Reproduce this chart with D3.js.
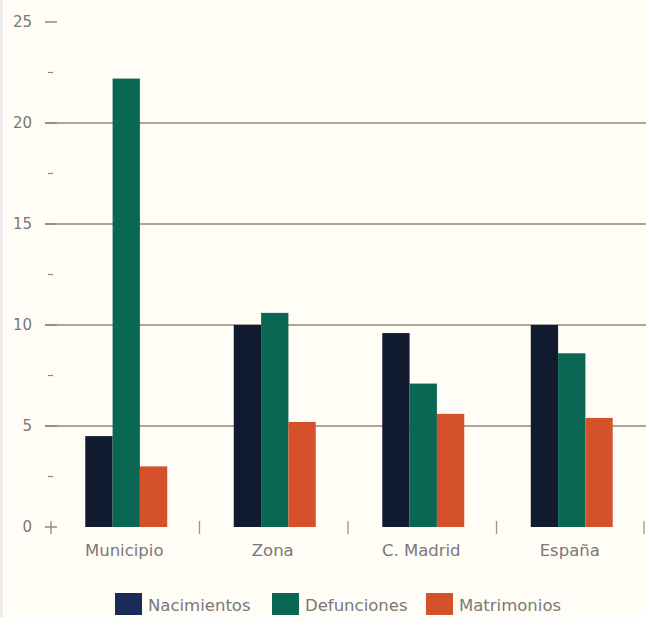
<!DOCTYPE html>
<html>
<head>
<meta charset="utf-8">
<script src="https://cdn.jsdelivr.net/npm/d3@7"></script>
<style>
  html, body { margin: 0; padding: 0; background: #fffdf6; }
  svg { display: block; }
</style>
</head>
<body>
<script>
const categories = ["Municipio", "Zona", "C. Madrid", "España"];
const seriesNames = ["Nacimientos", "Defunciones", "Matrimonios"];
const nacimientos = [4.5, 10.0, 9.6, 10.0];
const defunciones = [22.2, 10.6, 7.1, 8.6];
const matrimonios = [3.0, 5.2, 5.6, 5.4];
const yTicks = [0, 5, 10, 15, 20, 25];
const yMinorTicks = [2.5, 7.5, 12.5, 17.5, 22.5];
const colors = ["#111b30", "#0a6753", "#d5512a"];
const legendColors = ["#1b2b58", "#0a6753", "#d5512a"];

const W = 646, H = 617;
const svg = d3.select("body").append("svg").attr("width", W).attr("height", H);
svg.append("rect").attr("width", W).attr("height", H).attr("fill", "#fffdf6");
svg.append("rect").attr("x", 0).attr("y", 0).attr("width", 3).attr("height", H).attr("fill", "#ececea");

const y = d3.scaleLinear().domain([0, 25]).range([527, 22]);
const x0 = d3.scaleBand().domain(categories).range([52, 646]).paddingInner(0.448).paddingOuter(0.224);
const x1 = d3.scaleBand().domain(seriesNames).range([0, x0.bandwidth()]);

const gridColor = "#8f8878";
const textColor = "#787878";
const font = "'DejaVu Sans', sans-serif";

// gridlines
svg.append("g").selectAll("line").data(yTicks.filter(d => d > 0 && d < 25)).join("line")
  .attr("x1", 45).attr("x2", W).attr("y1", d => y(d)).attr("y2", d => y(d))
  .attr("stroke", gridColor).attr("stroke-width", 1.5);
// major ticks
svg.append("g").selectAll("line").data(yTicks).join("line")
  .attr("x1", 45).attr("x2", 57).attr("y1", d => y(d)).attr("y2", d => y(d))
  .attr("stroke", gridColor).attr("stroke-width", 1.5);
// minor ticks
svg.append("g").selectAll("line").data(yMinorTicks).join("line")
  .attr("x1", 48).attr("x2", 53).attr("y1", d => y(d)).attr("y2", d => y(d))
  .attr("stroke", gridColor).attr("stroke-width", 1.2);
// category boundary ticks
const step = x0.step();
const bounds = d3.range(0, categories.length + 1).map(i => 51 + i * step);
svg.append("g").selectAll("line").data(bounds).join("line")
  .attr("x1", d => Math.min(d, W - 2)).attr("x2", d => Math.min(d, W - 2))
  .attr("y1", y(0) - 6).attr("y2", y(0) + 7)
  .attr("stroke", d => d < 60 ? gridColor : "#9a958a").attr("stroke-width", 1.3);

// y labels
svg.append("g").selectAll("text").data(yTicks).join("text")
  .attr("x", 32).attr("y", d => y(d)).attr("dy", "0.36em")
  .attr("text-anchor", "end").attr("font-family", font).attr("font-size", 15)
  .attr("fill", textColor).text(d => d);

// bars
const data = categories.map((c, i) => ({ cat: c, vals: [nacimientos[i], defunciones[i], matrimonios[i]] }));
const groups = svg.append("g").selectAll("g").data(data).join("g")
  .attr("transform", d => `translate(${x0(d.cat)},0)`);
groups.selectAll("rect").data(d => d.vals.map((v, j) => ({ name: seriesNames[j], v, j }))).join("rect")
  .attr("x", d => x1(d.name)).attr("width", x1.bandwidth())
  .attr("y", d => y(d.v)).attr("height", d => y(0) - y(d.v))
  .attr("fill", d => colors[d.j]);

// category labels
svg.append("g").selectAll("text").data(categories).join("text")
  .attr("x", d => x0(d) + x0.bandwidth() / 2 - 2).attr("y", 556)
  .attr("text-anchor", "middle").attr("font-family", font).attr("font-size", 16.5)
  .attr("fill", textColor).text(d => d);

// legend
const legendX = [115, 272, 426];
const lg = svg.append("g").selectAll("g").data(seriesNames).join("g")
  .attr("transform", (d, i) => `translate(${legendX[i]},593)`);
lg.append("rect").attr("width", 27).attr("height", 22).attr("fill", (d, i) => legendColors[i]);
lg.append("text").attr("x", 33).attr("y", 18).attr("font-family", font).attr("font-size", 16.5)
  .attr("fill", textColor).text(d => d);
</script>
</body>
</html>
